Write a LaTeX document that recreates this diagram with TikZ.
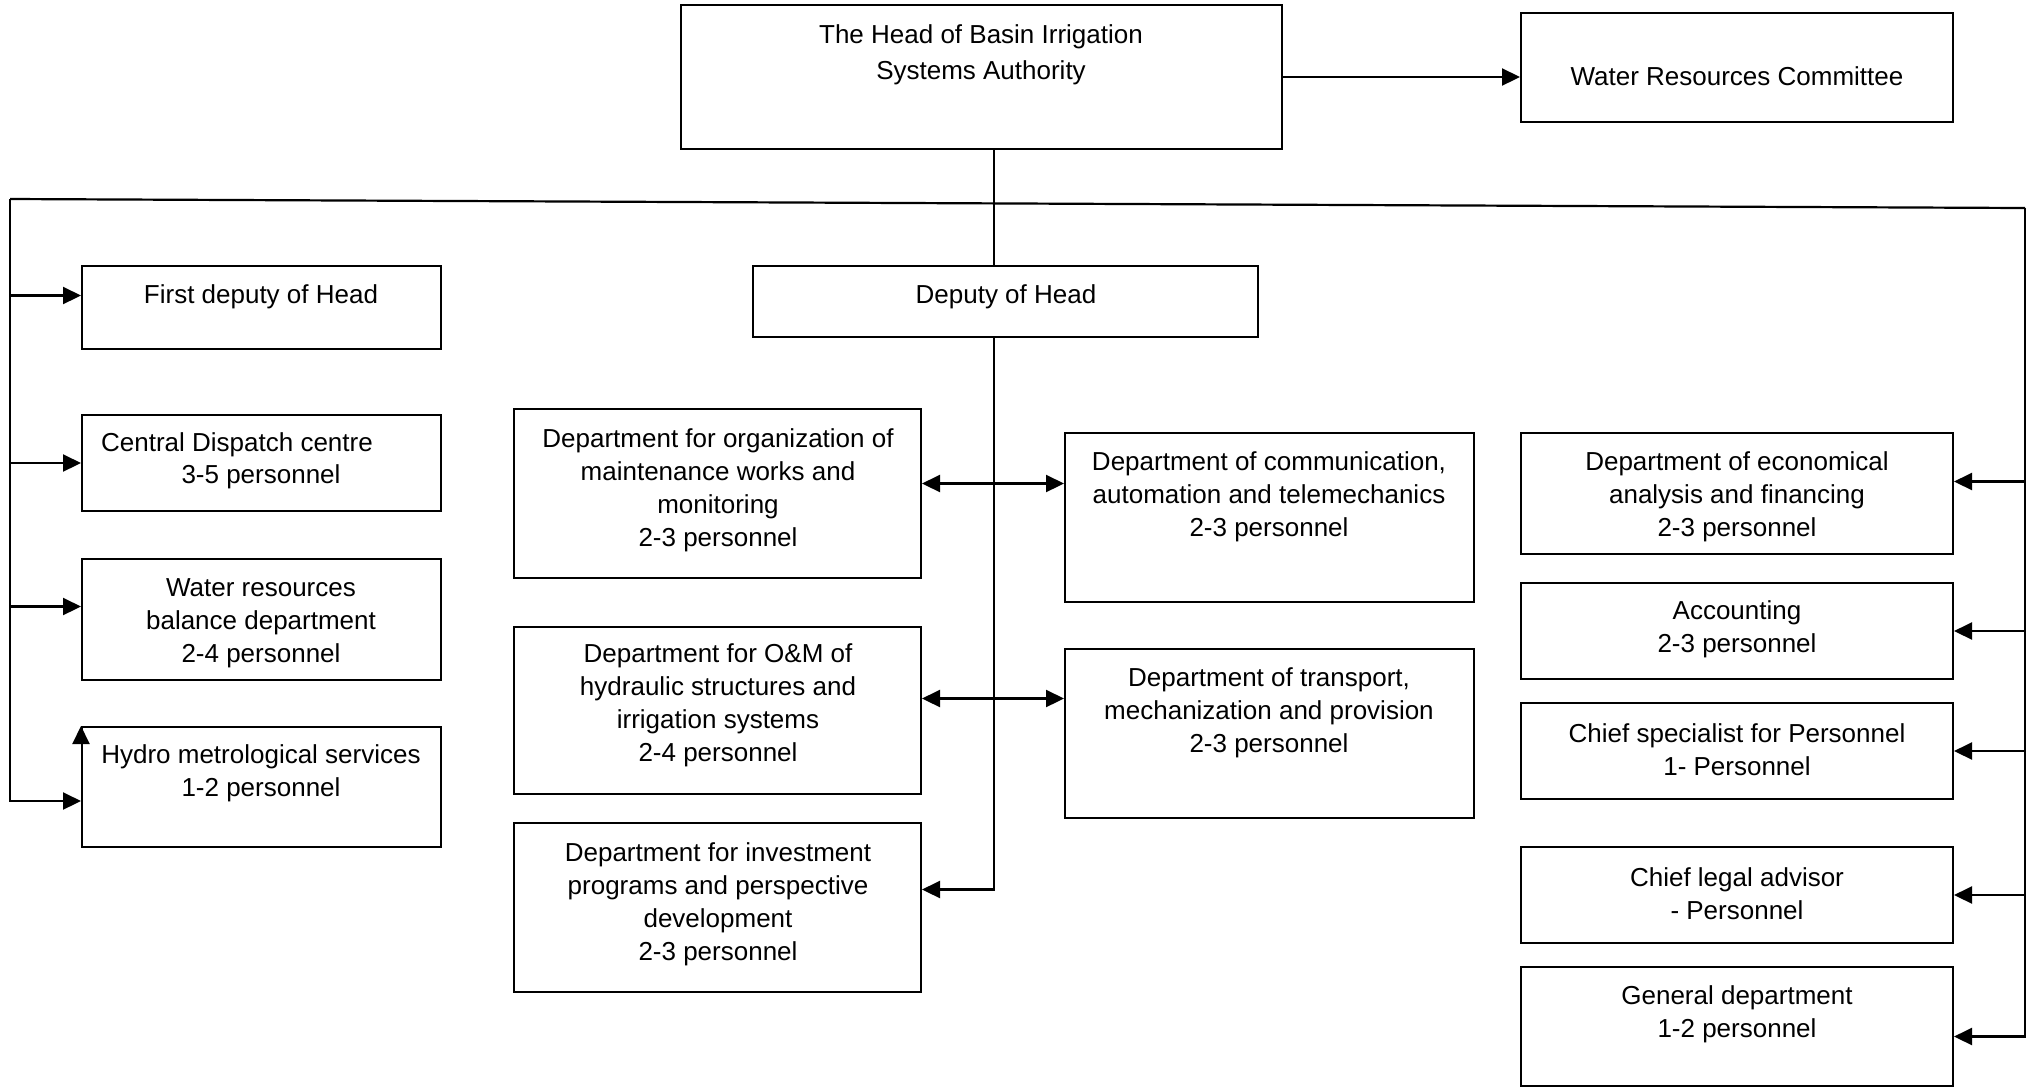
\documentclass[tikz,border=0pt]{standalone}
\usepackage{fontspec}
\setmainfont{Liberation Sans}
\usetikzlibrary{arrows.meta, fit}

\tikzset{
  unit/.style={draw, line width=1pt, inner sep=0pt},
  lbl/.style={align=center, inner sep=0pt, font=\fontsize{13}{16.5}\selectfont},
  wire/.style={line width=1.1pt},
  arr/.style={wire, -{Triangle[length=9pt,width=8.5pt]}},
  darr/.style={wire, {Triangle[length=9pt,width=8.5pt]}-{Triangle[length=9pt,width=8.5pt]}}
}

\begin{document}
\begin{tikzpicture}[x=0.5pt, y=-0.5pt]
\useasboundingbox (0,0) rectangle (2035,1089);

% top level
\node[unit, fit={(681,5) (1282,149)}] (head) {};
\node[lbl, font=\fontsize{13}{18}\selectfont] (headtxt) at (981,55) {The Head of Basin Irrigation\\Systems Authority};
\node[unit, fit={(1521,13) (1953,122)}] (wrc) {};
\node[lbl] (wrctxt) at (1737,76) {Water Resources Committee};
\node[unit, fit={(753,266) (1258,337)}] (dep) {};
\node[lbl] (deptxt) at (1006,297) {Deputy of Head};

% left column
\node[unit, fit={(82,266) (441,349)}] (fdep) {};
\node[lbl] (fdeptxt) at (261,297) {First deputy of Head};
\node[unit, fit={(82,415) (441,511)}] (cdc) {};
\node[lbl] (cdctxt) at (237,445) {Central Dispatch centre};
\node[lbl] (cdcnum) at (261,477) {3-5 personnel};
\node[unit, fit={(82,559) (441,680)}] (wrb) {};
\node[lbl] (wrbtxt) at (261,623) {Water resources\\balance department\\2-4 personnel};
\node[unit, fit={(82,727) (441,847)}] (hyd) {};
\node[lbl] (hydtxt) at (261,773) {Hydro metrological services\\1-2 personnel};

% middle columns
\node[unit, fit={(514,409) (921,578)}] (org) {};
\node[lbl] (orgtxt) at (718,490) {Department for organization of\\maintenance works and\\monitoring\\2-3 personnel};
\node[unit, fit={(514,627) (921,794)}] (onm) {};
\node[lbl] (onmtxt) at (718,705) {Department for O\&M of\\hydraulic structures and\\irrigation systems\\2-4 personnel};
\node[unit, fit={(514,823) (921,992)}] (inv) {};
\node[lbl] (invtxt) at (718,904) {Department for investment\\programs and perspective\\development\\2-3 personnel};
\node[unit, fit={(1065,433) (1474,602)}] (com) {};
\node[lbl] (comtxt) at (1269,497) {Department of communication,\\automation and telemechanics\\2-3 personnel};
\node[unit, fit={(1065,649) (1474,818)}] (trn) {};
\node[lbl] (trntxt) at (1269,713) {Department of transport,\\mechanization and provision\\2-3 personnel};

% right column
\node[unit, fit={(1521,433) (1953,554)}] (eco) {};
\node[lbl] (ecotxt) at (1737,497) {Department of economical\\analysis and financing\\2-3 personnel};
\node[unit, fit={(1521,583) (1953,679)}] (acc) {};
\node[lbl] (acctxt) at (1737,629) {Accounting\\2-3 personnel};
\node[unit, fit={(1521,703) (1953,799)}] (csp) {};
\node[lbl] (csptxt) at (1737,750) {Chief specialist for Personnel\\1- Personnel};
\node[unit, fit={(1521,847) (1953,943)}] (law) {};
\node[lbl] (lawtxt) at (1737,894) {Chief legal advisor\\- Personnel};
\node[unit, fit={(1521,967) (1953,1086)}] (gen) {};
\node[lbl] (gentxt) at (1737,1014) {General department\\1-2 personnel};

% bus line
\coordinate (busL) at (10,199);
\coordinate (busR) at (2025,208);
\coordinate (busM) at (994,203);
\draw[wire] (busL) -- (busR);
\draw[arr] (head.east) -- (head.east -| wrc.west);
\draw[wire] (head.south -| busM) -- (dep.north -| busM);

% left links
\draw[arr] (busL) |- ([yshift=-7pt]hyd.west);
\draw[arr] ([yshift=6pt]fdep.west -| busL) -- ([yshift=6pt]fdep.west);
\draw[arr] (cdc.west -| busL) -- (cdc.west);
\draw[arr] ([yshift=6.5pt]wrb.west -| busL) -- ([yshift=6.5pt]wrb.west);
\draw[arr] ([yshift=-8pt]hyd.north west) -- (hyd.north west);

% deputy links
\draw[arr] (dep.south -| busM) |- ([yshift=9pt]inv.east);
\draw[darr] ([yshift=5pt]org.east) -- ([yshift=5pt]org.east -| com.west);
\draw[darr] ([yshift=6pt]onm.east) -- ([yshift=6pt]onm.east -| trn.west);

% right links
\draw[arr] (busR) |- ([yshift=-5pt]gen.east);
\draw[arr] ([yshift=6pt]eco.east -| busR) -- ([yshift=6pt]eco.east);
\draw[arr] (acc.east -| busR) -- (acc.east);
\draw[arr] (csp.east -| busR) -- (csp.east);
\draw[arr] (law.east -| busR) -- (law.east);
\end{tikzpicture}
\end{document}
